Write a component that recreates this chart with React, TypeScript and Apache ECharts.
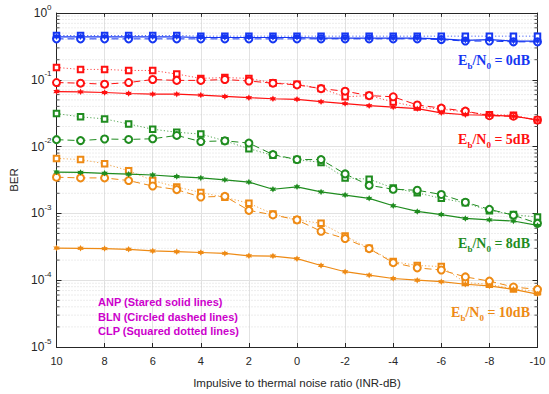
import React, { useEffect, useRef } from "react";
import * as echarts from "echarts";

const X = [10, 9, 8, 7, 6, 5, 4, 3, 2, 1, 0, -1, -2, -3, -4, -5, -6, -7, -8, -9, -10];

const blueANP = [0.44, 0.44, 0.44, 0.44, 0.44, 0.44, 0.43, 0.43, 0.43, 0.43, 0.43, 0.42, 0.42, 0.42, 0.42, 0.42, 0.41, 0.39, 0.40, 0.38, 0.38];
const blueBLN = [0.41, 0.41, 0.41, 0.41, 0.41, 0.41, 0.41, 0.41, 0.41, 0.41, 0.41, 0.41, 0.41, 0.41, 0.41, 0.41, 0.40, 0.38, 0.38, 0.37, 0.37];
const blueCLP = [0.46, 0.46, 0.46, 0.46, 0.46, 0.46, 0.45, 0.45, 0.45, 0.45, 0.45, 0.45, 0.45, 0.45, 0.45, 0.45, 0.45, 0.45, 0.45, 0.45, 0.45];

const redANP = [0.0667, 0.066, 0.0645, 0.0624, 0.061, 0.061, 0.059, 0.0564, 0.054, 0.052, 0.051, 0.047, 0.044, 0.041, 0.039, 0.037, 0.032, 0.030, 0.0295, 0.0285, 0.025];
const redBLN = [0.091, 0.089, 0.086, 0.091, 0.101, 0.098, 0.098, 0.101, 0.096, 0.089, 0.084, 0.0737, 0.0675, 0.058, 0.0557, 0.042, 0.0377, 0.034, 0.029, 0.0285, 0.025];
const redCLP = [0.153, 0.143, 0.143, 0.138, 0.138, 0.122, 0.105, 0.108, 0.105, 0.090, 0.086, 0.074, 0.0557, 0.058, 0.0467, 0.039, 0.0364, 0.033, 0.030, 0.0295, 0.025];

const greenANP = [0.00416, 0.0041, 0.00398, 0.00386, 0.00376, 0.00356, 0.0034, 0.00318, 0.00294, 0.0023, 0.0025, 0.0021, 0.00188, 0.00168, 0.0013, 0.00107, 0.00096, 0.00084, 0.0008, 0.00077, 0.00066];
const greenBLN = [0.0127, 0.0123, 0.013, 0.0128, 0.0131, 0.0147, 0.0119, 0.0122, 0.0113, 0.0076, 0.0064, 0.0064, 0.0039, 0.00263, 0.0023, 0.00222, 0.00192, 0.00147, 0.00115, 0.00094, 0.00071];
const greenCLP = [0.0312, 0.0279, 0.026, 0.0218, 0.0182, 0.0164, 0.0154, 0.0122, 0.0093, 0.0074, 0.0064, 0.0058, 0.0034, 0.00325, 0.0024, 0.00203, 0.00168, 0.00144, 0.0011, 0.00096, 0.00088];

const orangeANP = [0.000303, 0.0003, 0.000297, 0.00029, 0.000274, 0.000267, 0.00026, 0.000252, 0.000232, 0.00023, 0.00021, 0.000166, 0.000134, 0.000119, 0.000106, 0.0001, 0.000095, 0.000087, 0.000082, 0.000073, 0.000062];
const orangeBLN = [0.00348, 0.0034, 0.0034, 0.0031, 0.00257, 0.00227, 0.00176, 0.0018, 0.00111, 0.00095, 0.0008, 0.00054, 0.00042, 0.000297, 0.000183, 0.000153, 0.000142, 0.000112, 0.000097, 0.000079, 0.000073];
const orangeCLP = [0.00666, 0.0064, 0.00556, 0.00435, 0.0031, 0.00248, 0.00206, 0.00174, 0.00142, 0.00098, 0.0008, 0.00071, 0.00046, 0.0003, 0.00019, 0.000166, 0.00016, 0.000092, 0.000087, 0.000074, 0.000068];

const groups = [
  { color: "#1536f2", anp: blueANP, bln: blueBLN, clp: blueCLP, label: "0dB", y: 60 },
  { color: "#ff1010", anp: redANP, bln: redBLN, clp: redCLP, label: "5dB", y: 139 },
  { color: "#1f8c1f", anp: greenANP, bln: greenBLN, clp: greenCLP, label: "8dB", y: 243 },
  { color: "#ee8a14", anp: orangeANP, bln: orangeBLN, clp: orangeCLP, label: "10dB", y: 312 },
];

const legendLines = ["ANP (Stared solid lines)", "BLN (Circled dashed lines)", "CLP (Squared dotted lines)"];

const MINOR: number[] = [];
for (let e = -5; e < 0; e++) for (let m = 2; m <= 9; m++) MINOR.push(m * Math.pow(10, e));

const STAR = "path://M0,-10 L2.6,-4.5 L8.7,-5 L5.2,0 L8.7,5 L2.6,4.5 L0,10 L-2.6,4.5 L-8.7,5 L-5.2,0 L-8.7,-5 L-2.6,-4.5 Z";

const FONT = "'Liberation Sans', Arial, Helvetica, sans-serif";
const AX = "#262626";

export default function App() {
  const ref = useRef<HTMLDivElement>(null);
  useEffect(() => {
    const chart = echarts.init(ref.current!, null, { renderer: "svg" });
    const pairs = (arr: number[]) => arr.map((v, i) => [X[i], v]);
    const series: any[] = [];
    series.push({
      type: "custom",
      silent: true,
      z: 1,
      data: MINOR.map((v) => [10, v]),
      encode: { x: 0, y: 1 },
      renderItem: (params: any, api: any) => {
        const y = api.value(1);
        const pl = api.coord([10, y]);
        const pr = api.coord([-10, y]);
        return {
          type: "group",
          children: [
            { type: "line", shape: { x1: pl[0], y1: pl[1], x2: pr[0], y2: pr[1] }, style: { stroke: "#d0d0d0", lineWidth: 0.8, lineDash: [1, 2] } },
            { type: "line", shape: { x1: pl[0], y1: pl[1], x2: pl[0] + 3, y2: pl[1] }, style: { stroke: AX, lineWidth: 0.8 } },
            { type: "line", shape: { x1: pr[0], y1: pr[1], x2: pr[0] - 3, y2: pr[1] }, style: { stroke: AX, lineWidth: 0.8 } },
          ],
        };
      },
    });
    groups.forEach((g) => {
      series.push({
        type: "line", data: pairs(g.clp), z: 3, symbol: "emptyRect", symbolSize: 5.5,
        lineStyle: { color: g.color, width: 0.9, type: [1.2, 2.2], opacity: 0.85 },
        itemStyle: { color: g.color, borderColor: g.color, borderWidth: 0.8 },
      });
      series.push({
        type: "line", data: pairs(g.bln), z: 4, symbol: "emptyCircle", symbolSize: 7,
        lineStyle: { color: g.color, width: 1, type: [7, 4] },
        itemStyle: { color: g.color, borderColor: g.color, borderWidth: 0.9 },
      });
      series.push({
        type: "line", data: pairs(g.anp), z: 5, symbol: STAR, symbolSize: 6.5,
        lineStyle: { color: g.color, width: 1.2 },
        itemStyle: { color: g.color },
      });
    });

    const graphics: any[] = [];
    groups.forEach((g) => {
      graphics.push({
        type: "text", x: 530, y: g.y, z: 10,
        style: {
          text: `{e|E}{s|b}{e|/N}{s|0}{e| = ${g.label}}`,
          textAlign: "right", textVerticalAlign: "middle", fill: g.color,
          rich: {
            e: { fontFamily: "'Liberation Serif', 'DejaVu Serif', serif", fontWeight: "bold", fontSize: 14, lineHeight: 14, verticalAlign: "middle", fill: g.color },
            s: { fontFamily: "'Liberation Serif', 'DejaVu Serif', serif", fontWeight: "bold", fontSize: 9, lineHeight: 20, verticalAlign: "bottom", fill: g.color },
          },
        },
      });
    });
    legendLines.forEach((t, i) => {
      graphics.push({
        type: "text", x: 98, y: 302 + i * 14.5, z: 10,
        style: { text: t, fill: "#cc00cc", font: `bold 11px ${FONT}`, textVerticalAlign: "middle" },
      });
    });

    const yLabel = {
      color: AX, fontFamily: FONT,
      formatter: (v: number) => `{b|10}{s|${Math.round(Math.log10(v))}}`,
      rich: {
        b: { fontSize: 12, fontFamily: FONT, color: AX, lineHeight: 14, verticalAlign: "middle" },
        s: { fontSize: 8, fontFamily: FONT, color: AX, lineHeight: 20, verticalAlign: "top" },
      },
    };

    chart.setOption({
      animation: false,
      grid: { left: 56.5, top: 13, width: 481, height: 341, containLabel: false },
      xAxis: [
        {
          type: "value", min: -10, max: 10, interval: 2, inverse: true,
          name: "Impulsive to thermal noise ratio (INR-dB)", nameLocation: "middle", nameGap: 30,
          nameTextStyle: { color: AX, fontSize: 11.5, fontFamily: FONT },
          axisLine: { onZero: false, lineStyle: { color: AX, width: 1 } },
          axisTick: { inside: true, length: 4, lineStyle: { color: AX } },
          axisLabel: { color: AX, fontSize: 11, fontFamily: FONT, margin: 8 },
          splitLine: { show: true, lineStyle: { color: "#e2e2e2", width: 1 } },
        },
        {
          type: "value", min: -10, max: 10, interval: 2, inverse: true, position: "top",
          axisLine: { onZero: false, lineStyle: { color: AX, width: 1 } },
          axisTick: { inside: true, length: 4, lineStyle: { color: AX } },
          axisLabel: { show: false }, splitLine: { show: false },
        },
      ],
      yAxis: [
        {
          type: "log", logBase: 10, min: 1e-5, max: 1,
          name: "BER", nameLocation: "middle", nameGap: 32, nameRotate: 90,
          nameTextStyle: { color: AX, fontSize: 11.5, fontFamily: FONT },
          axisLine: { show: true, onZero: false, lineStyle: { color: AX, width: 1 } },
          axisTick: { inside: true, length: 5, lineStyle: { color: AX } },
          axisLabel: { ...yLabel, margin: 5 },
          splitLine: { show: true, lineStyle: { color: "#e2e2e2", width: 1 } },
        },
        {
          type: "log", logBase: 10, min: 1e-5, max: 1, position: "right",
          axisLine: { show: true, onZero: false, lineStyle: { color: AX, width: 1 } },
          axisTick: { inside: true, length: 5, lineStyle: { color: AX } },
          axisLabel: { show: false }, splitLine: { show: false },
        },
      ],
      series,
      graphic: graphics,
    });
    return () => chart.dispose();
  }, []);
  return <div ref={ref} style={{ position: "absolute", left: 0, top: 0, width: 549, height: 394 }} />;
}
